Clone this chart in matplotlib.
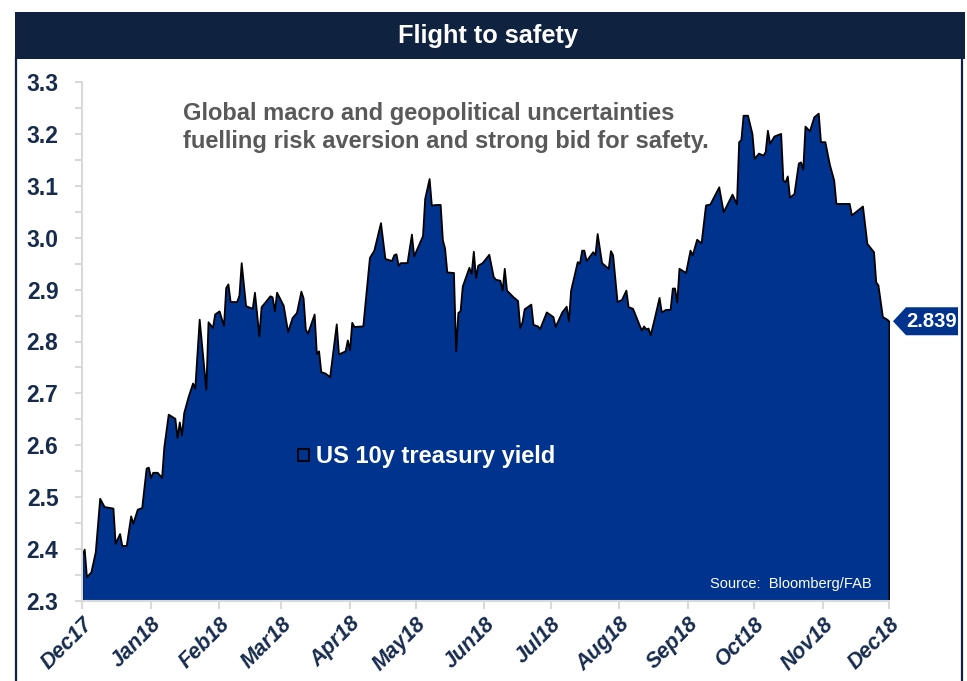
import matplotlib
matplotlib.use("Agg")
import matplotlib.pyplot as plt
import matplotlib.dates as mdates
import matplotlib.transforms as mtransforms
from matplotlib.patches import Rectangle, Polygon
from matplotlib.lines import Line2D
import numpy as np
import pandas as pd

plt.rcParams['font.family'] = ['Liberation Sans', 'DejaVu Sans']

# ---------------- data ----------------
start_date = "2017-12-10"
day_offsets = [0, 1, 2, 4, 6, 8, 10, 14, 15, 17, 18, 20, 22, 23, 25, 27, 29, 30, 31, 32,
               34, 36, 37, 39, 42, 43, 44, 45, 46, 48, 50, 51, 53, 56, 57, 59, 60, 62,
               64, 65, 66, 67, 70, 71, 72, 74, 77, 78, 80, 81, 85, 86, 87, 88, 91, 93, 95, 97,
               99, 100, 101, 102, 105, 106, 107, 108, 110, 112, 115, 116, 119, 120, 121, 122, 123, 127,
               130, 132, 135, 137, 140, 141, 142, 143, 144, 147, 149, 150, 154, 155, 157, 158, 160, 162,
               163, 164, 165, 168, 169, 170, 171, 172, 175, 176, 177, 178, 179, 181, 184,
               186, 187, 189, 190, 191, 192, 195, 197, 198, 199, 200, 203, 204, 206, 207, 210, 212, 213,
               214, 217, 219, 220, 221, 224, 225, 226, 227, 228, 231, 232, 233, 235, 238, 239, 240, 242, 244,
               246, 247, 249, 252, 253, 254, 255, 256, 257, 259, 261, 262, 264, 266, 267, 268, 269, 270,
               273, 275, 276, 278, 280, 282, 284, 288, 290, 294, 296, 297, 298, 299, 301, 303,
               304, 306, 308, 309, 310, 311, 313, 316, 317, 318, 319, 320, 322, 324, 325, 326, 327, 329,
               331, 333, 334, 336, 338, 340, 341, 347, 348, 353, 355, 358, 359, 360, 362, 364, 365]
yield_values = [2.390, 2.400, 2.347, 2.356, 2.395, 2.498, 2.482, 2.479, 2.411, 2.430, 2.407, 2.407,
                2.464, 2.450, 2.477, 2.480, 2.556, 2.558, 2.538, 2.548, 2.548, 2.538, 2.597, 2.660,
                2.652, 2.615, 2.645, 2.620, 2.663, 2.694, 2.720, 2.710, 2.843, 2.708, 2.838, 2.827,
                2.853, 2.859,
                2.831, 2.904, 2.911, 2.877, 2.877, 2.890, 2.952, 2.869, 2.864, 2.895,
                2.811, 2.867, 2.888, 2.886, 2.859, 2.895, 2.870, 2.819, 2.846, 2.856,
                2.897, 2.884, 2.824, 2.816, 2.853, 2.777, 2.782, 2.742, 2.739, 2.732,
                2.834, 2.776, 2.782, 2.803, 2.784, 2.837, 2.829, 2.830,
                2.962, 2.976, 3.029, 2.960, 2.956, 2.967, 2.969, 2.947, 2.952, 2.952,
                3.007, 2.965, 3.004, 3.076, 3.114, 3.063, 3.064, 3.064, 2.996, 2.980,
                2.934, 2.933, 2.782, 2.856, 2.859, 2.907, 2.943, 2.931, 2.974, 2.923,
                2.947, 2.952, 2.968,
                2.925, 2.920, 2.918, 2.899, 2.941, 2.899, 2.886, 2.879, 2.827, 2.838,
                2.863, 2.872, 2.833, 2.830, 2.825, 2.857, 2.851, 2.848, 2.829, 2.857,
                2.868, 2.840, 2.899, 2.954, 2.951, 2.976, 2.976, 2.956, 2.973, 2.967,
                3.008, 2.952, 2.941, 2.975, 2.967, 2.877, 2.881,
                2.899, 2.867, 2.864, 2.832, 2.822, 2.830, 2.824, 2.826, 2.813, 2.848,
                2.885, 2.857, 2.862, 2.862, 2.903, 2.903, 2.876, 2.941, 2.933, 2.976,
                2.967, 2.997, 2.990, 3.063, 3.065, 3.098, 3.050, 3.084, 3.065, 3.185,
                3.189, 3.236, 3.236, 3.201,
                3.153, 3.163, 3.159, 3.166, 3.207, 3.182, 3.196, 3.201, 3.111, 3.108,
                3.119, 3.078, 3.085, 3.144, 3.146, 3.132, 3.215, 3.206, 3.233, 3.240,
                3.185, 3.185, 3.142, 3.111, 3.066, 3.066, 3.044, 3.061, 2.989, 2.973,
                2.915, 2.909, 2.848, 2.843, 2.839]
assert len(day_offsets) == len(yield_values)

tick_dates = ["2017-12-10", "2018-01-10", "2018-02-10", "2018-03-10", "2018-04-10",
              "2018-05-10", "2018-06-10", "2018-07-10", "2018-08-10", "2018-09-10",
              "2018-10-10", "2018-11-10", "2018-12-10"]
tick_labels = ["Dec17", "Jan18", "Feb18", "Mar18", "Apr18", "May18", "Jun18",
               "Jul18", "Aug18", "Sep18", "Oct18", "Nov18", "Dec18"]
y_ticks = [2.3, 2.4, 2.5, 2.6, 2.7, 2.8, 2.9, 3.0, 3.1, 3.2, 3.3]
last_label = "2.839"
title_text = "Flight to safety"
note_text = "Global macro and geopolitical uncertainties\nfuelling risk aversion and strong bid for safety."
series_name = "US 10y treasury yield"
source_text = "Source:  Bloomberg/FAB"

# ---------------- style ----------------
BLUE = "#00338D"
NAVY = "#0F2341"
TICKCOL = "#172B4D"
AXCOL = "#D9D9D9"
GREY = "#595959"

W, H = 967, 681
fig = plt.figure(figsize=(W / 100, H / 100), dpi=100)


def fx(px):
    return px / W


def fy(py):
    return 1 - py / H


# title bar & frame
fig.add_artist(Rectangle((fx(15), fy(59)), fx(965) - fx(15), fy(12) - fy(59),
                         transform=fig.transFigure, facecolor=NAVY, edgecolor='none'))
fig.text(fx(488), fy(35.5), title_text, color='white', fontsize=18.3, fontweight='bold',
         ha='center', va='center')
for xp in (16, 962):
    fig.add_artist(Line2D([fx(xp), fx(xp)], [0, fy(58)], transform=fig.transFigure,
                          color=NAVY, lw=1.6))

ax = fig.add_axes([fx(82), fy(601), fx(889) - fx(82), fy(82) - fy(601)])
dates = pd.to_datetime(start_date) + pd.to_timedelta(day_offsets, unit='D')
ax.fill_between(dates, yield_values, y_ticks[0], facecolor=BLUE, edgecolor='black',
                linewidth=1.3, zorder=2)

ax.set_xlim(pd.Timestamp(tick_dates[0]), pd.Timestamp(tick_dates[-1]))
ax.set_ylim(y_ticks[0], y_ticks[-1])

for s in ('top', 'right'):
    ax.spines[s].set_visible(False)
for s in ('left', 'bottom'):
    ax.spines[s].set_color(AXCOL)
    ax.spines[s].set_linewidth(1.5)

ax.set_yticks(y_ticks)
ax.set_yticklabels([f"{v:.1f}" for v in y_ticks], fontsize=16.5, fontweight='bold',
                   color=TICKCOL)
ax.set_yticks([v + 0.05 for v in y_ticks[:-1]], minor=True)
ax.tick_params(axis='y', which='both', direction='out', length=5, width=1.5,
               color=AXCOL, pad=12)

ax.set_xticks(pd.to_datetime(tick_dates))
ax.set_xticklabels(tick_labels, rotation=45, ha='right', va='top', rotation_mode='anchor',
                   fontsize=15.5, fontweight='bold', fontstyle='italic', color=TICKCOL)
ax.tick_params(axis='x', direction='out', length=6, width=1.5, color=AXCOL, pad=3)

# annotation text
fig.text(fx(183), fy(102), note_text, ha='left', va='top', color=GREY, fontsize=17,
         fontweight='bold', linespacing=1.3)

# legend
fig.add_artist(Rectangle((fx(298), fy(461)), fx(309) - fx(298), fy(449) - fy(461),
                         transform=fig.transFigure, facecolor=BLUE, edgecolor='black', lw=1.3))
fig.text(fx(316), fy(456), series_name, ha='left', va='center', color='white',
         fontsize=17, fontweight='bold')

# source
fig.text(fx(872), fy(584), source_text, ha='right', va='center', color='white', fontsize=10.5)

# last value tag
x_last = mdates.date2num(dates[-1].to_pydatetime())
px, py = ax.transData.transform((x_last, yield_values[-1]))
ident = mtransforms.IdentityTransform()
tag = Polygon([(px + 4, py), (px + 17, py + 14), (px + 69, py + 14),
               (px + 69, py - 14), (px + 17, py - 14)], closed=True,
              facecolor=BLUE, edgecolor='none', transform=ident)
fig.add_artist(tag)
fig.text(px + 43, py, last_label, transform=ident, ha='center', va='center',
         color='white', fontsize=14.5, fontweight='bold')

fig.savefig("out.png", dpi=100)
